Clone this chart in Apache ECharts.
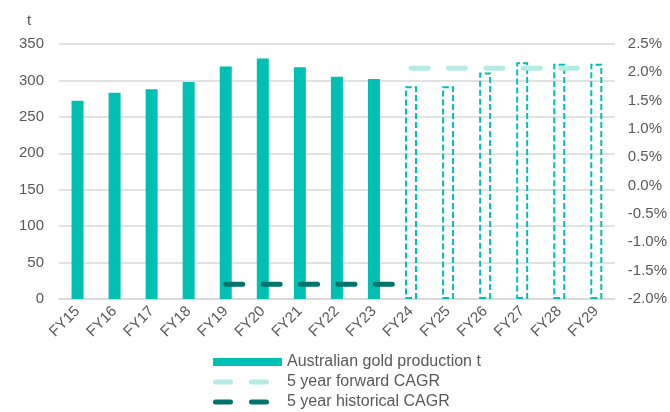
<!DOCTYPE html>
<html>
<head>
<meta charset="utf-8">
<script src="https://cdn.jsdelivr.net/npm/echarts@6/dist/echarts.min.js"></script>
<style>
  html, body { margin: 0; padding: 0; background: #ffffff; }
  #chart { width: 670px; height: 412px; }
</style>
</head>
<body>
<div id="chart"></div>
<script>
// Financial years on the category axis
var years = ['FY15', 'FY16', 'FY17', 'FY18', 'FY19', 'FY20', 'FY21', 'FY22', 'FY23',
             'FY24', 'FY25', 'FY26', 'FY27', 'FY28', 'FY29'];
// Australian gold production (t); FY24 onwards are forecasts
var production = [272, 283, 288, 298, 319, 330, 318, 305, 302, 292, 292, 311, 325, 323, 323];
var firstForecastIndex = 9;
// 5 year CAGR (%), plotted on the right axis
var historicalCagr = [null, null, null, null, -1.74, -1.74, -1.74, -1.74, -1.74, -1.74, null, null, null, null, null];
var forwardCagr = [null, null, null, null, null, null, null, null, null, 2.07, 2.07, 2.07, 2.07, 2.07, 2.07];
// Axis ranges
var leftAxis = { min: 0, max: 350, interval: 50 };
var rightAxis = { min: -2.0, max: 2.5, interval: 0.5 };

var teal = '#00bfb3';
var darkTeal = '#00736b';
var lightTeal = '#b6ebe4';
var textColor = '#595959';
var gridColor = '#d9d9d9';
var fontFamily = '"Liberation Sans", Arial, sans-serif';

// Legend icon for the dashed CAGR lines: two rounded dashes inside a 69x8 box
var dashIcon = 'path://M0,0 L0,0 M69,8 L69,8 ' +
  'M2.5,1.5 H17.5 A2.5,2.5 0 0 1 17.5,6.5 H2.5 A2.5,2.5 0 0 1 2.5,1.5 Z ' +
  'M38.5,1.5 H53.5 A2.5,2.5 0 0 1 53.5,6.5 H38.5 A2.5,2.5 0 0 1 38.5,1.5 Z';

var barData = production.map(function (v, i) {
  if (i < firstForecastIndex) {
    return { value: v, itemStyle: { color: teal } };
  }
  return {
    value: v,
    itemStyle: {
      color: 'rgba(0,0,0,0)',
      borderColor: teal,
      borderWidth: 2,
      borderType: [6, 3]
    }
  };
});

var chart = echarts.init(document.getElementById('chart'), null, { renderer: 'canvas' });
chart.setOption({
  animation: false,
  textStyle: { fontFamily: fontFamily, color: textColor },
  grid: { left: 59, right: 55, top: 44, bottom: 113, containLabel: false },
  legend: {
    orient: 'vertical',
    left: 208,
    top: 349,
    height: 80,
    itemWidth: 69,
    itemHeight: 8,
    itemGap: 4,
    textStyle: { fontSize: 16, color: textColor, fontFamily: fontFamily },
    data: [
      { name: 'Australian gold production t', icon: 'rect', itemStyle: { color: teal, borderWidth: 0 } },
      { name: '5 year forward CAGR', icon: dashIcon, itemStyle: { color: lightTeal } },
      { name: '5 year historical CAGR', icon: dashIcon, itemStyle: { color: darkTeal } }
    ]
  },
  xAxis: {
    type: 'category',
    data: years,
    axisLine: { lineStyle: { color: gridColor, width: 1.5 } },
    axisTick: { show: false },
    axisLabel: { rotate: 45, margin: 10, fontSize: 15, color: textColor }
  },
  yAxis: [
    {
      type: 'value',
      min: leftAxis.min,
      max: leftAxis.max,
      interval: leftAxis.interval,
      name: 't',
      nameLocation: 'end',
      nameGap: 16,
      nameTextStyle: { fontSize: 15, color: textColor, align: 'center', padding: [0, 0, 0, -60] },
      axisLine: { show: false },
      axisTick: { show: false },
      axisLabel: { fontSize: 15, color: textColor, margin: 15 },
      splitLine: { lineStyle: { color: gridColor, width: 1.5 } }
    },
    {
      type: 'value',
      min: rightAxis.min,
      max: rightAxis.max,
      interval: rightAxis.interval,
      position: 'right',
      axisLine: { show: false },
      axisTick: { show: false },
      splitLine: { show: false },
      axisLabel: {
        fontSize: 15,
        color: textColor,
        margin: 13,
        formatter: function (v) { return v.toFixed(1) + '%'; }
      }
    }
  ],
  series: [
    {
      name: 'Australian gold production t',
      type: 'bar',
      yAxisIndex: 0,
      barWidth: 12,
      data: barData,
      itemStyle: { color: teal }
    },
    {
      name: '5 year forward CAGR',
      type: 'line',
      yAxisIndex: 1,
      data: forwardCagr,
      symbol: 'none',
      color: lightTeal,
      lineStyle: { color: lightTeal, width: 5, type: [17, 20.4], cap: 'round' },
      z: 3
    },
    {
      name: '5 year historical CAGR',
      type: 'line',
      yAxisIndex: 1,
      data: historicalCagr,
      symbol: 'none',
      color: darkTeal,
      lineStyle: { color: darkTeal, width: 5, type: [17, 20.4], cap: 'round' },
      z: 3
    }
  ]
});
</script>
</body>
</html>
